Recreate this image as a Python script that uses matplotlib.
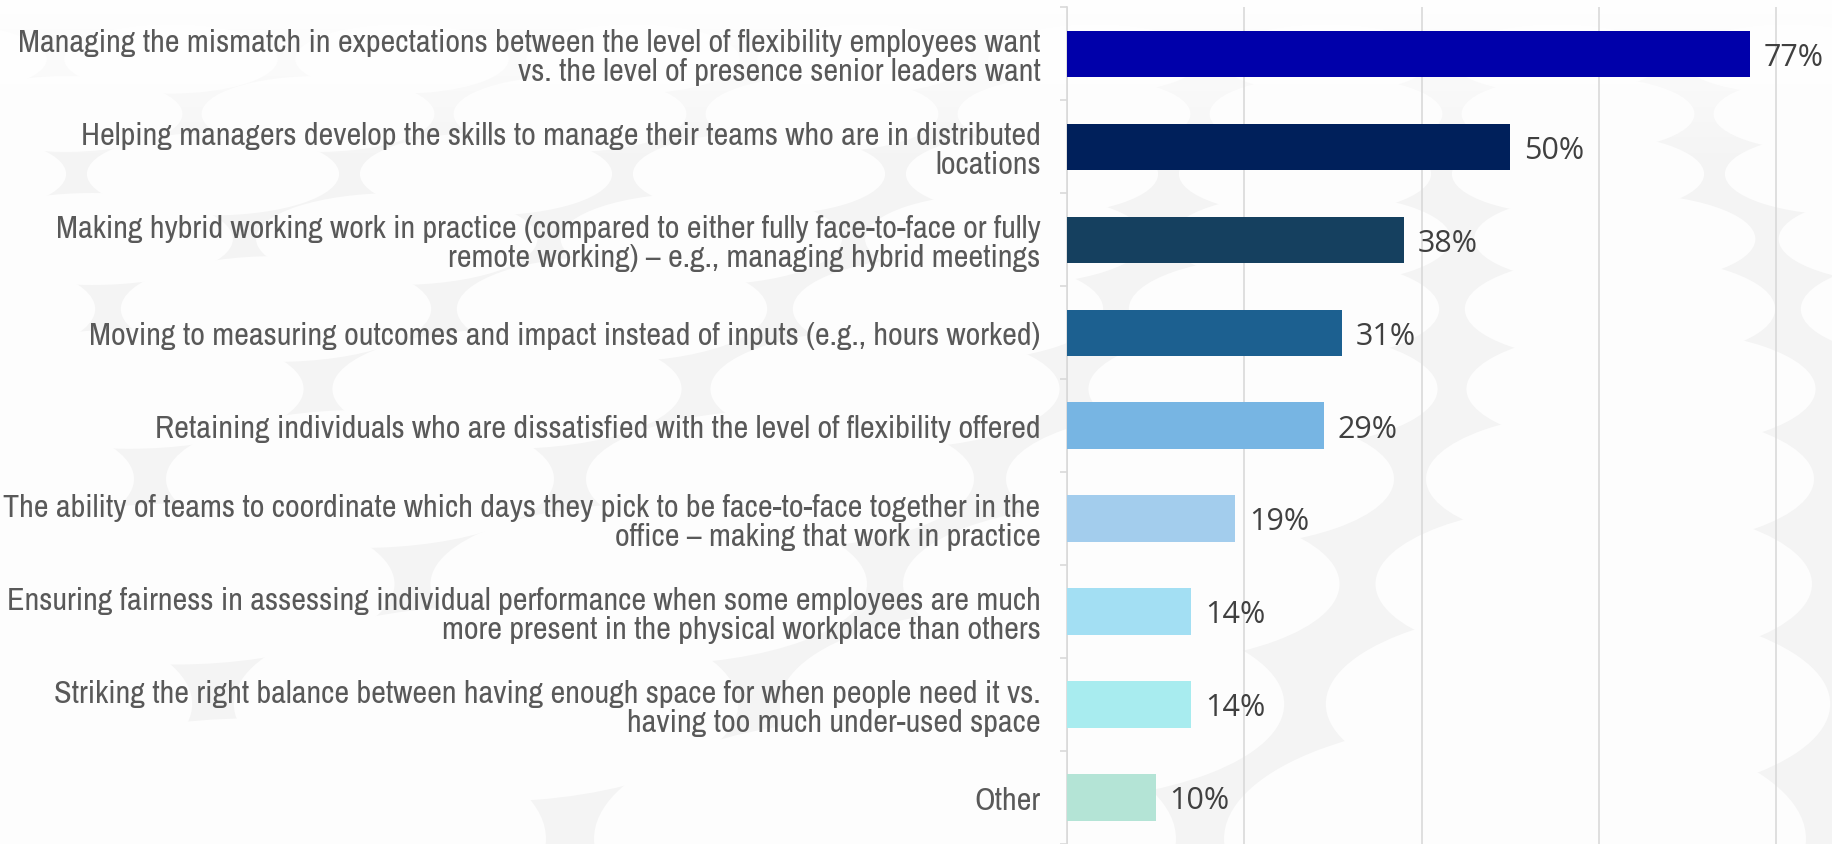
import matplotlib
matplotlib.use("Agg")
import matplotlib.pyplot as plt
from matplotlib.patches import Ellipse, Rectangle
import numpy as np

categories = [
    "Managing the mismatch in expectations between the level of flexibility employees want\nvs. the level of presence senior leaders want",
    "Helping managers develop the skills to manage their teams who are in distributed\nlocations",
    "Making hybrid working work in practice (compared to either fully face-to-face or fully\nremote working) \u2013 e.g., managing hybrid meetings",
    "Moving to measuring outcomes and impact instead of inputs (e.g., hours worked)",
    "Retaining individuals who are dissatisfied with the level of flexibility offered",
    "The ability of teams to coordinate which days they pick to be face-to-face together in the\noffice \u2013 making that work in practice",
    "Ensuring fairness in assessing individual performance when some employees are much\nmore present in the physical workplace than others",
    "Striking the right balance between having enough space for when people need it vs.\nhaving too much under-used space",
    "Other",
]
values = [77, 50, 38, 31, 29, 19, 14, 14, 10]
value_labels = ["77%", "50%", "38%", "31%", "29%", "19%", "14%", "14%", "10%"]
colors = ["#0000AA", "#00205B", "#15405F", "#1C6090", "#77B5E3",
          "#A3CDED", "#A3DFF3", "#A8ECEF", "#B4E4D6"]
grid_ticks = [0, 20, 40, 60, 80]

W, H = 1832, 845
fig = plt.figure(figsize=(W / 100, H / 100), dpi=100)
fig.patch.set_facecolor("white")

# decorative background texture (white ellipses on light grey)
bg = fig.add_axes([0, 0, 1, 1], zorder=-10)
bg.set_xlim(0, W)
bg.set_ylim(H, 0)
bg.axis("off")
bg.add_patch(Rectangle((0, 0), W, H, facecolor="#F4F4F4", edgecolor="none"))
rows = [(60, 220, 60), (115, 240, 66), (175, 260, 72), (240, 290, 80),
        (310, 320, 92), (390, 360, 104), (480, 400, 120), (585, 450, 140),
        (705, 520, 170), (840, 600, 210)]
for i, (cy, ew, eh) in enumerate(rows):
    step = ew * 1.05
    off = (i % 2) * step / 2 - 60
    x = off
    while x < W + ew:
        bg.add_patch(Ellipse((x, cy), ew * 0.97, eh * 1.15, facecolor="#FDFDFD",
                             edgecolor="none"))
        x += step
grad = np.linspace(1, 0, 200).reshape(-1, 1)
bg.imshow(np.dstack([np.ones((200, 1, 3)), grad]), extent=(0, W, 170, 0),
          aspect="auto", zorder=5)

ax = fig.add_axes([1067 / W, 0, 1 - 1067 / W, 0.990])
ax.patch.set_alpha(0)
y = np.arange(len(categories))
ax.barh(y, values, height=0.5, color=colors, zorder=3)
ax.set_xlim(0, 86.3)
ax.set_ylim(len(categories) - 0.5, -0.5)

ax.set_xticks(grid_ticks)
ax.xaxis.grid(True, color="#D9D9D9", linewidth=1.2, zorder=0)
ax.tick_params(axis="x", length=0, labelbottom=False)
for s in ["top", "right", "bottom"]:
    ax.spines[s].set_visible(False)
ax.spines["left"].set_color("#D9D9D9")
ax.spines["left"].set_linewidth(1.2)

ax.set_yticks(y)
ax.set_yticklabels(categories, family=["Archivo Narrow", "DejaVu Sans"],
                   fontsize=23.2, color="#595959", linespacing=1.02)
ax.tick_params(axis="y", which="major", length=0, pad=19)
ax.set_yticks(np.arange(len(categories) + 1) - 0.5, minor=True)
ax.tick_params(axis="y", which="minor", length=5, width=1.2, color="#D9D9D9")

for yi, v, lab in zip(y, values, value_labels):
    ax.annotate(lab, (v, yi), xytext=(10, -2), textcoords="offset points",
                va="center", ha="left", fontsize=22, color="#404040",
                family=["Open Sans", "DejaVu Sans"], zorder=4)

fig.savefig("out.png", dpi=100, facecolor=fig.get_facecolor())
